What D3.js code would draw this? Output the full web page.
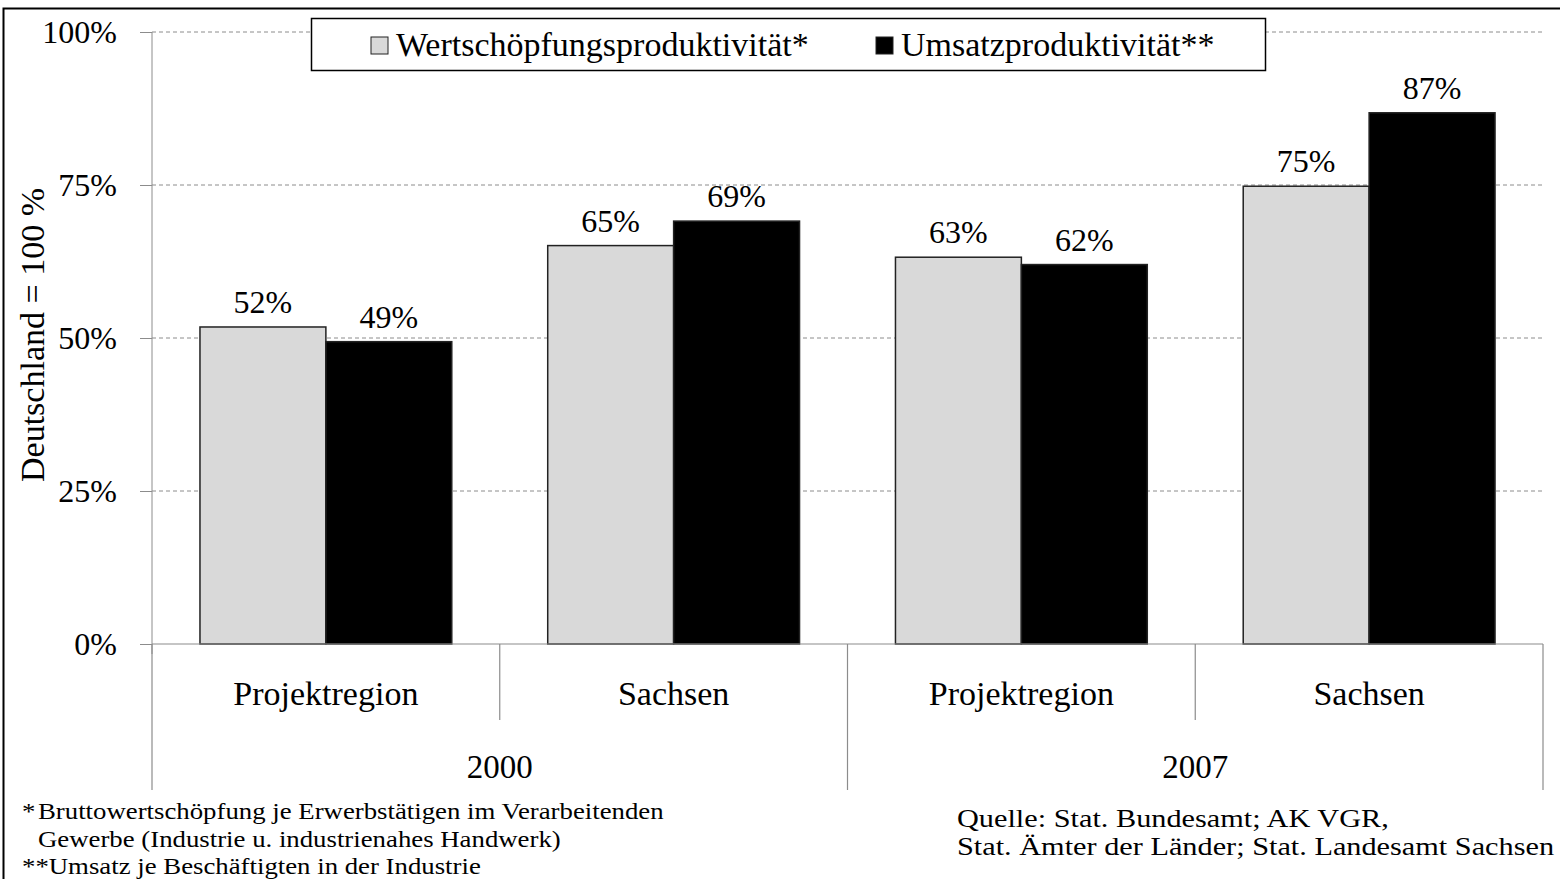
<!DOCTYPE html>
<html>
<head>
<meta charset="utf-8">
<script src="https://cdn.jsdelivr.net/npm/d3@7"></script>
<style>
  body { margin: 0; background: #fff; }
  svg { font-family: "Liberation Serif", "Times New Roman", serif; }
</style>
</head>
<body>
<svg id="chart" width="1560" height="879"></svg>
<script>
// data
const years = ["2000", "2007"];
const regions = ["Projektregion", "Sachsen"];
const seriesNames = ["Wertschöpfungsproduktivität*", "Umsatzproduktivität**"];
const wertschoepfung = [51.8, 65.1, 63.2, 74.8];
const umsatz = [49.4, 69.1, 62.0, 86.8];
const yTicks = [0, 25, 50, 75, 100];
const colors = ["#d9d9d9", "#000000"];

const svg = d3.select("#chart");
const margin = { top: 32, right: 17, bottom: 235, left: 152 };
const width = 1560, height = 879;
const plotW = width - margin.left - margin.right;
const plotH = height - margin.top - margin.bottom;

// outer frame
svg.append("rect")
  .attr("x", 3.5).attr("y", 8.5)
  .attr("width", 1600).attr("height", 1000)
  .attr("fill", "none").attr("stroke", "#000").attr("stroke-width", 2);

const g = svg.append("g").attr("transform", "translate(" + margin.left + "," + margin.top + ")");

const cats = [];
years.forEach(y => regions.forEach(r => cats.push(y + "|" + r)));

const x = d3.scaleBand().domain(cats).range([0, plotW]).paddingInner(0).paddingOuter(0);
const xInner = d3.scaleBand().domain([0, 1]).range([0, x.bandwidth() * 252 / 348]);
const innerOffset = x.bandwidth() * 48 / 348;
const y = d3.scaleLinear().domain([0, 100]).range([plotH, 0]);

// gridlines
g.selectAll(".grid")
  .data(yTicks.filter(d => d > 0))
  .enter().append("line")
  .attr("x1", 0).attr("x2", plotW)
  .attr("y1", d => y(d)).attr("y2", d => y(d))
  .attr("stroke", "#8c8c8c").attr("stroke-width", 1)
  .attr("stroke-dasharray", "4,3");

// y axis
const yAxis = g.append("g")
  .call(d3.axisLeft(y).tickValues(yTicks).tickFormat(d => d + "%").tickSize(12).tickPadding(23));
yAxis.select(".domain").attr("stroke", "#8c8c8c").attr("d", "M0," + (plotH + 10) + "V0");
yAxis.selectAll(".tick line").attr("stroke", "#8c8c8c");
yAxis.selectAll(".tick text")
  .attr("font-size", 32).attr("fill", "#000")
  .style("font-family", "Liberation Serif");

// y axis title
svg.append("text")
  .attr("transform", "translate(44,335) rotate(-90)")
  .attr("text-anchor", "middle")
  .attr("font-size", 34)
  .text("Deutschland = 100 %");

// bars
const rows = cats.map((c, i) => ({ cat: c, vals: [wertschoepfung[i], umsatz[i]] }));
const grp = g.selectAll(".grp")
  .data(rows)
  .enter().append("g")
  .attr("transform", d => "translate(" + (x(d.cat) + innerOffset) + ",0)");

grp.selectAll("rect")
  .data(d => d.vals.map((v, k) => ({ v: v, k: k })))
  .enter().append("rect")
  .attr("x", d => xInner(d.k))
  .attr("y", d => y(d.v))
  .attr("width", xInner.bandwidth())
  .attr("height", d => y(0) - y(d.v))
  .attr("fill", d => colors[d.k])
  .attr("stroke", "#222").attr("stroke-width", 1.5);

grp.selectAll(".lbl")
  .data(d => d.vals.map((v, k) => ({ v: v, k: k })))
  .enter().append("text")
  .attr("x", d => xInner(d.k) + xInner.bandwidth() / 2)
  .attr("y", d => y(d.v) - 14)
  .attr("text-anchor", "middle")
  .attr("font-size", 32)
  .text(d => Math.round(d.v) + "%");

// category axis
g.append("line")
  .attr("x1", 0).attr("x2", plotW)
  .attr("y1", y(0)).attr("y2", y(0))
  .attr("stroke", "#8c8c8c").attr("stroke-width", 1.2);

const sepX = cats.map(c => x(c)).concat([plotW]);
g.selectAll(".sep")
  .data(sepX)
  .enter().append("line")
  .attr("x1", d => d).attr("x2", d => d)
  .attr("y1", y(0))
  .attr("y2", (d, i) => (i % 2 === 0) ? y(0) + 146 : y(0) + 76)
  .attr("stroke", "#8c8c8c").attr("stroke-width", 1.2);

g.selectAll(".catLbl")
  .data(cats)
  .enter().append("text")
  .attr("x", d => x(d) + x.bandwidth() / 2)
  .attr("y", y(0) + 61)
  .attr("text-anchor", "middle")
  .attr("font-size", 34)
  .text(d => d.split("|")[1]);

g.selectAll(".yearLbl")
  .data(years)
  .enter().append("text")
  .attr("x", (d, i) => x(cats[i * 2]) + x.bandwidth())
  .attr("y", y(0) + 134)
  .attr("text-anchor", "middle")
  .attr("font-size", 33)
  .text(d => d);

// legend
const leg = svg.append("g");
leg.append("rect")
  .attr("x", 311.5).attr("y", 18.5).attr("width", 954).attr("height", 52)
  .attr("fill", "#fff").attr("stroke", "#000").attr("stroke-width", 1.5);
const legX = [371, 876];
seriesNames.forEach((s, i) => {
  leg.append("rect")
    .attr("x", legX[i]).attr("y", 37).attr("width", 17).attr("height", 17)
    .attr("fill", colors[i]).attr("stroke", "#222").attr("stroke-width", 1);
  leg.append("text")
    .attr("x", legX[i] + 25).attr("y", 56)
    .attr("font-size", 34)
    .text(s);
});

// footnotes
const notes = [
  { t: "*", x: 22, y: 819 },
  { t: "Bruttowertschöpfung je Erwerbstätigen im Verarbeitenden", x: 38, y: 819 },
  { t: "Gewerbe (Industrie u. industrienahes Handwerk)", x: 38, y: 847 },
  { t: "**Umsatz je Beschäftigten in der Industrie", x: 22, y: 874 }
];
svg.selectAll(".note")
  .data(notes)
  .enter().append("text")
  .attr("transform", d => "translate(" + d.x + "," + d.y + ") scale(1.165,1)")
  .attr("font-size", 23)
  .text(d => d.t);

const source = ["Quelle: Stat. Bundesamt; AK VGR,", "Stat. Ämter der Länder; Stat. Landesamt Sachsen"];
svg.selectAll(".src")
  .data(source)
  .enter().append("text")
  .attr("transform", (d, i) => "translate(957," + (827 + i * 28) + ") scale(1.165,1)")
  .attr("font-size", 26)
  .text(d => d);
</script>
</body>
</html>
